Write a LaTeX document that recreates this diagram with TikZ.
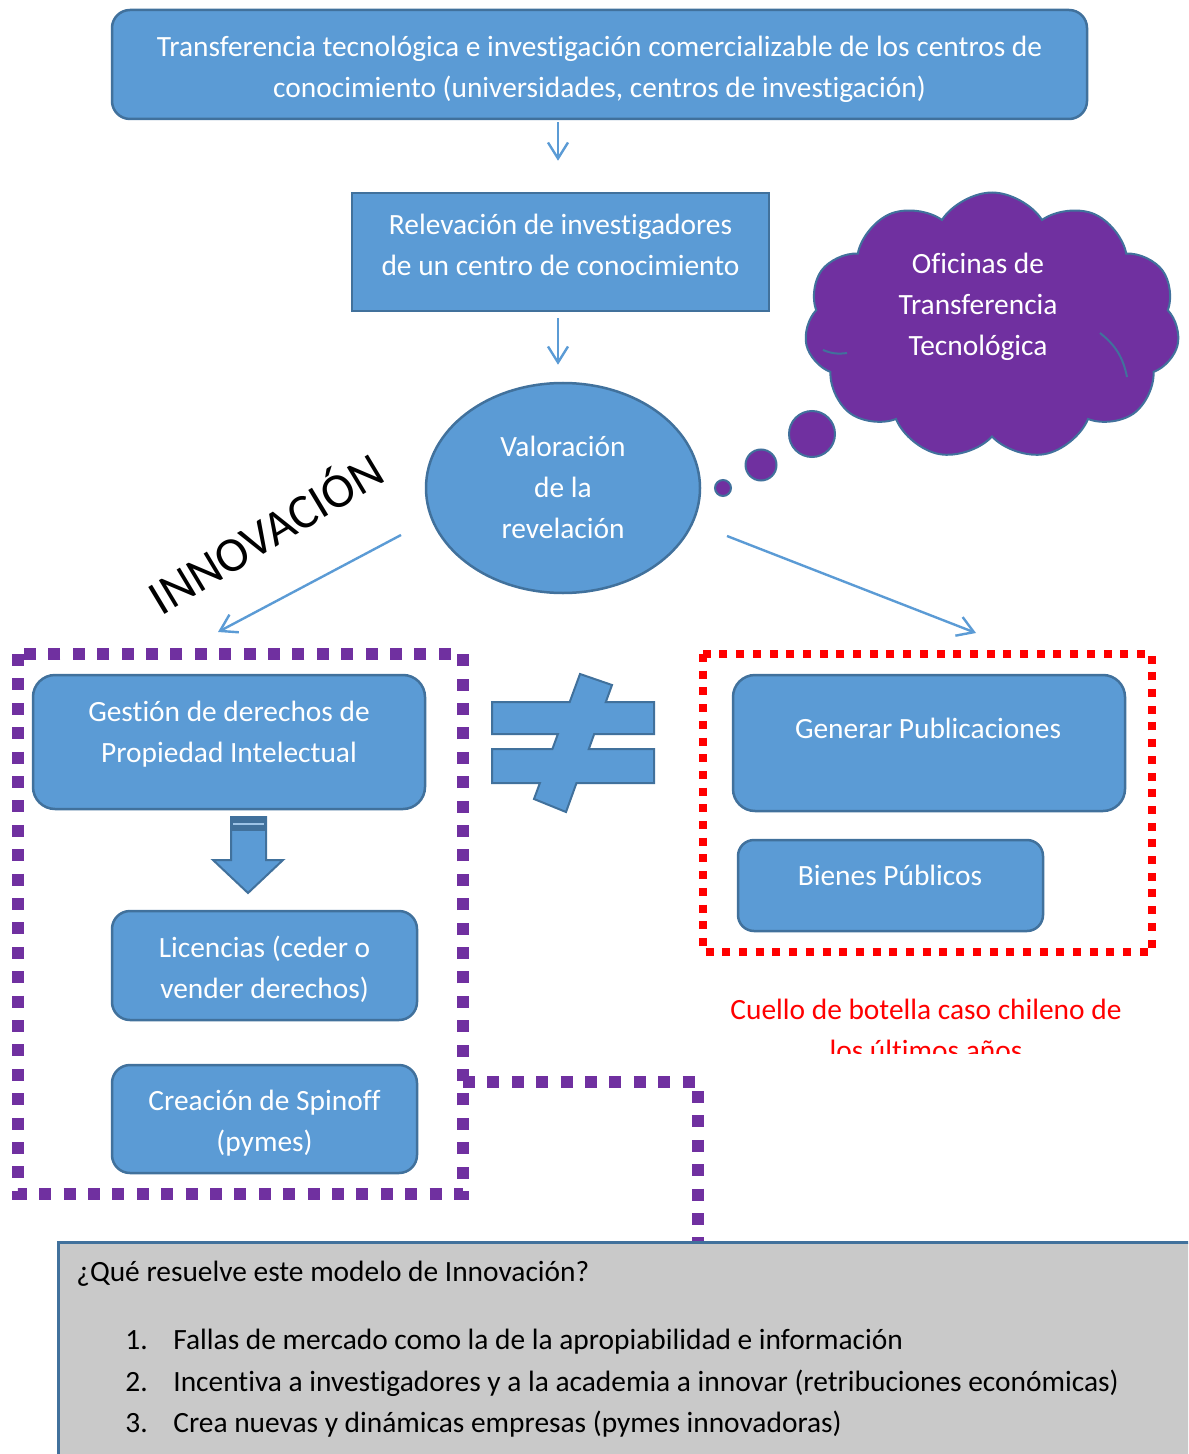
\documentclass[tikz,border=0pt]{standalone}
\usepackage{fontspec}
\setmainfont{Carlito}[Ligatures={CommonOff}]
\usetikzlibrary{arrows.meta,shapes.symbols,shapes.geometric}
\definecolor{boxblue}{HTML}{5B9BD5}
\definecolor{edgeblue}{HTML}{41719C}
\definecolor{ottpurple}{HTML}{7030A0}
\definecolor{panelgray}{HTML}{C9C9C9}
\definecolor{alertred}{HTML}{FF0000}
\begin{document}
\begin{tikzpicture}[x=0.5pt,y=-0.5pt,
  box/.style={draw=edgeblue, fill=boxblue, line width=1.25pt, inner sep=0pt},
  wtext/.style={text=white, align=center, inner sep=0pt, font=\fontsize{14.7}{20.5}\selectfont},
  btext/.style={text=black, inner sep=0pt, anchor=base west, font=\fontsize{14.7}{20.5}\selectfont},
  arr/.style={draw=boxblue, line width=1.2pt, -{Straight Barb[length=8pt,width=10pt]}},
  purpledots/.style={draw=ottpurple, line width=6pt, dash pattern=on 6pt off 6.2pt},
  reddots/.style={draw=alertred, line width=4pt, dash pattern=on 4pt off 4.35pt},
  bubble/.style={circle, draw=edgeblue, fill=ottpurple, line width=1pt, inner sep=0pt},
  puffline/.style={draw=edgeblue, line width=1pt}]
\useasboundingbox (0,0) rectangle (1188,1454);
\clip (0,0) rectangle (1188,1454);

% top source box
\node[box, rounded corners=9pt, minimum width=487.5pt, minimum height=54.5pt] (top) at (599.5,64.5) {};
\node[wtext] (topT) at (599.5,69) {Transferencia tecnológica e investigación comercializable de los centros de\\conocimiento (universidades, centros de investigación)};

% disclosure box
\node[box, minimum width=208.5pt, minimum height=59pt] (rel) at (560.5,252) {};
\node[wtext] (relT) at (560.5,245) {Relevación de investigadores\\de un centro de conocimiento};

% evaluation ellipse
\node[box, ellipse, minimum width=137pt, minimum height=105pt] (val) at (563,488) {};
\node[wtext] (valT) at (563,487) {Valoración\\de la\\revelación};

\draw[arr, shorten <=1pt, shorten >=15.5pt] (top.south -| 558,0) -- (rel.north -| 558,0);
\draw[arr, shorten <=3pt, shorten >=8.5pt] (rel.south -| 558,0) -- (val.north -| 558,0);

% technology transfer office cloud and thought bubbles
\node[cloud, cloud puffs=11, cloud puff arc=115, aspect=1.4, draw=edgeblue, fill=ottpurple,
      line width=1pt, minimum width=187.5pt, minimum height=133.5pt, inner sep=0pt] (ott) at (992,326) {};
\draw[puffline] (1100,333) to[bend left=20] (1127,377);
\draw[puffline] (847,353) to[bend left=15] (823,350);
\node[wtext] (ottT) at (978,307) {Oficinas de\\Transferencia\\Tecnológica};
\node[bubble, minimum size=23pt] (b1) at (812,434) {};
\node[bubble, minimum size=15.5pt] (b2) at (761,465) {};
\node[bubble, minimum size=8pt] (b3) at (723,488) {};

% branch arrows
\coordinate (l1) at (401,535);
\coordinate (l2) at (218,632);
\coordinate (r1) at (727,536);
\coordinate (r2) at (976,633);
\draw[arr] (l1) -- (l2);
\draw[arr] (r1) -- (r2);
\node[rotate=31, inner sep=0pt, font=\fontsize{24.5}{28}\selectfont] (innov) at (264,531) {INNOVACIÓN};

% innovation branch
\draw[purpledots] (18,654) rectangle (463,1194);
\node[box, rounded corners=11pt, minimum width=196pt, minimum height=67pt] (gest) at (229,742) {};
\node[wtext] (gestT) at (229,734) {Gestión de derechos de\\Propiedad Intelectual};
\draw[draw=edgeblue, fill=boxblue, line width=1pt] (231,817) -- (266,817) -- (266,860) -- (283,860)
  -- (248,893) -- (213,860) -- (231,860) -- cycle;
\fill[edgeblue] (231,817) rectangle (266,831);
\draw[boxblue!60!white, line width=0.8pt] (233,824) -- (264,824);
\node[box, rounded corners=9pt, minimum width=152.5pt, minimum height=54.5pt] (lic) at (264.5,965.5) {};
\node[wtext] (licT) at (264.5,969) {Licencias (ceder o\\vender derechos)};
\node[box, rounded corners=9pt, minimum width=152.5pt, minimum height=54pt] (spin) at (264.5,1119) {};
\node[wtext] (spinT) at (264.5,1123) {Creación de Spinoff\\(pymes)};

% not-equal sign
\draw[draw=edgeblue, fill=boxblue, line width=1pt]
  (492,702) -- (569.7,702) -- (580,674) -- (612,685) -- (605.8,702) -- (654,702) -- (654,734)
  -- (594.2,734) -- (588.8,749) -- (654,749) -- (654,783) -- (576.5,783) -- (566,812)
  -- (534,799) -- (539.9,783) -- (492,783) -- (492,749) -- (552.4,749) -- (557.9,734)
  -- (492,734) -- cycle;

% publication branch
\draw[reddots] (703,654) rectangle (1152,952);
\node[box, rounded corners=11pt, minimum width=196pt, minimum height=68pt] (pub) at (929,743) {};
\node[wtext] (pubT) at (928,728) {Generar Publicaciones};
\node[box, rounded corners=8pt, minimum width=152.5pt, minimum height=45.5pt] (bien) at (890.5,885.5) {};
\node[wtext] (bienT) at (890,875) {Bienes Públicos};
\begin{scope}
  \clip (680,975) rectangle (1170,1053);
  \node[text=alertred, align=center, inner sep=0pt, font=\fontsize{14.7}{20.5}\selectfont] (cuello) at (926,1030)
    {Cuello de botella caso chileno de\\los últimos años};
\end{scope}

% summary panel
\node[draw=edgeblue, fill=panelgray, line width=1.5pt, anchor=north west, minimum width=580pt,
      minimum height=120pt, inner sep=0pt] (panel) at (57,1241) {};
\draw[purpledots] (463,1082) -- (698,1082) -- (panel.north -| 698,0);
\node[btext] (q) at (76,1281) {¿Qué resuelve este modelo de Innovación?};
\node[btext] (n1) at (125,1349) {1.};
\node[btext] (i1) at (173,1349) {Fallas de mercado como la de la apropiabilidad e información};
\node[btext] (n2) at (125,1391) {2.};
\node[btext] (i2) at (173,1391) {Incentiva a investigadores y a la academia a innovar (retribuciones económicas)};
\node[btext] (n3) at (125,1432) {3.};
\node[btext] (i3) at (173,1432) {Crea nuevas y dinámicas empresas (pymes innovadoras)};
\end{tikzpicture}
\end{document}
